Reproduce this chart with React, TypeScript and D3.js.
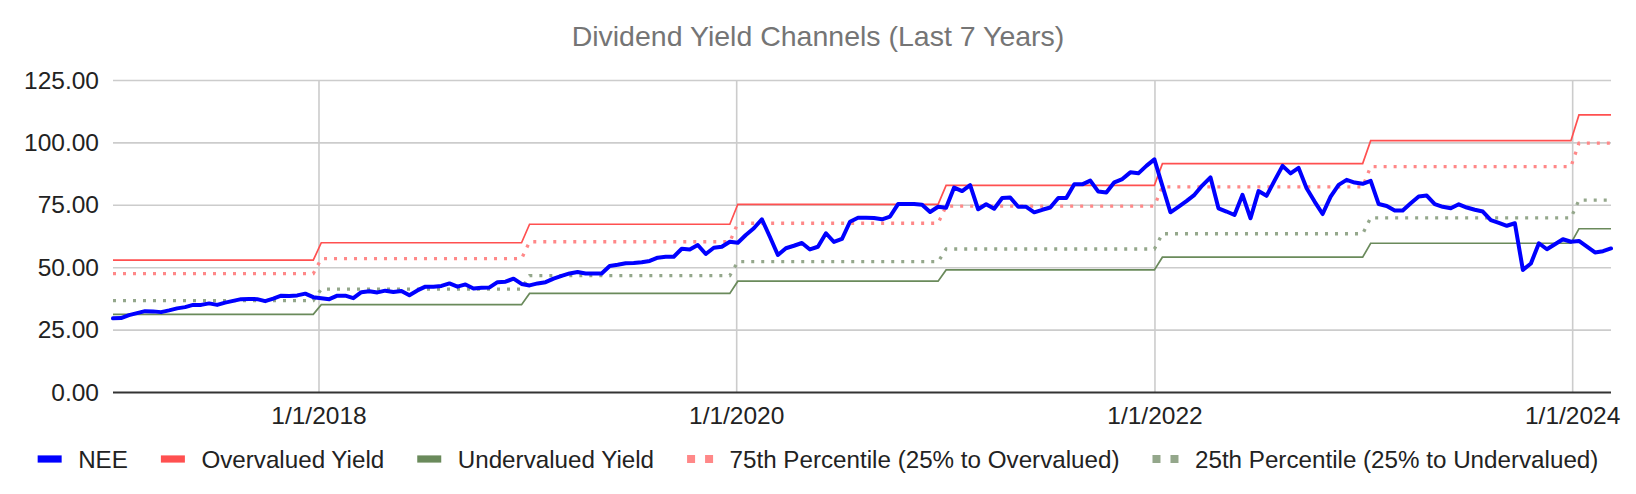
import * as d3 from "d3";
import React, { useEffect, useRef } from "react";

const chartTitle = "Dividend Yield Channels (Last 7 Years)";

// NEE sampled every two weeks (Fridays), starting 2017-01-06
const firstDate = new Date(2017, 0, 6);
const lastDate = new Date(2024, 2, 8);
const stepDays = 14;

const nee = [
  29.7, 29.8, 31.0, 31.8, 32.6, 32.5, 32.2, 32.9, 33.7, 34.2,
  35.1, 35.1, 35.7, 35.1, 36.0, 36.7, 37.4, 37.5, 37.4, 36.6,
  37.6, 38.8, 38.7, 38.9, 39.6, 38.2, 37.8, 37.4, 38.8, 38.8,
  37.8, 40.2, 40.6, 40.1, 40.8, 40.3, 40.7, 39.0, 40.9, 42.4,
  42.4, 42.7, 43.7, 42.4, 43.3, 41.7, 42.0, 42.1, 44.2, 44.4,
  45.6, 43.5, 42.9, 43.7, 44.2, 45.6, 46.7, 47.7, 48.3, 47.7,
  47.7, 47.7, 50.7, 51.2, 51.8, 51.9, 52.2, 52.7, 54.0, 54.4,
  54.4, 57.6, 57.3, 59.1, 55.5, 58.0, 58.4, 60.4, 60.0, 63.1,
  65.8, 69.4, 62.4, 55.1, 57.8, 58.8, 59.9, 57.3, 58.4, 63.8,
  60.3, 61.5, 68.4, 70.0, 70.0, 69.9, 69.4, 70.5, 75.5, 75.5,
  75.5, 75.2, 72.3, 74.4, 74.0, 82.1, 80.7, 83.1, 73.4, 75.4,
  73.6, 77.9, 78.1, 74.4, 74.4, 72.2, 73.2, 74.1, 77.9, 77.9,
  83.4, 83.4, 84.9, 80.5, 80.1, 84.2, 85.5, 88.2, 87.8, 90.8,
  93.4, 82.8, 72.2, 74.4, 76.7, 79.2, 83.0, 86.2, 73.8, 72.5,
  71.1, 79.2, 69.8, 80.7, 78.8, 84.9, 90.8, 87.8, 90.0, 81.8,
  76.5, 71.5, 78.5, 83.2, 85.2, 84.1, 83.6, 84.8, 75.5, 74.7,
  72.9, 72.9, 75.8, 78.5, 78.9, 75.5, 74.4, 73.8, 75.4, 74.1,
  73.2, 72.5, 69.1, 68.0, 66.8, 67.8, 49.1, 51.7, 59.8, 57.4,
  59.4, 61.4, 60.4, 60.7, 58.4, 56.1, 56.6, 57.7,
];

// yearly channel levels, 2017..2024
const bandYears = [2017, 2018, 2019, 2020, 2021, 2022, 2023, 2024];
const overvalued = [53.0, 60.0, 67.4, 75.4, 83.0, 91.7, 100.9, 111.2];
const undervalued = [31.3, 35.2, 39.7, 44.6, 49.1, 54.2, 59.8, 65.6];
const pct75 = [47.6, 53.6, 60.4, 67.8, 74.7, 82.4, 90.5, 99.9];
const pct25 = [36.8, 41.4, 46.8, 52.4, 57.5, 63.6, 70.0, 77.1];

const yTicks = [0, 25, 50, 75, 100, 125];
const xTicks = [new Date(2018, 0, 1), new Date(2020, 0, 1), new Date(2022, 0, 1), new Date(2024, 0, 1)];

const seriesNames = [
  "NEE",
  "Overvalued Yield",
  "Undervalued Yield",
  "75th Percentile (25% to Overvalued)",
  "25th Percentile (25% to Undervalued)",
];

export default function App() {
  const svgRef = useRef<SVGSVGElement | null>(null);

  useEffect(() => {
    document.body.style.margin = "0";
    if (!svgRef.current) return;

    const width = 1636;
    const height = 494;
    const marginTop = 80.5;
    const marginRight = 25;
    const marginBottom = 101.5;
    const marginLeft = 113;
    const font = "Arial, 'Liberation Sans', sans-serif";

    const colors = ["#0000ff", "#ff5050", "#6a8a5b", "#ff8888", "#94a78b"];

    const dates = nee.map((_, i) => d3.timeDay.offset(firstDate, i * stepDays));
    const band = (levels: number[]) => dates.map((d) => levels[d.getFullYear() - bandYears[0]]);

    const x = d3.scaleTime().domain([firstDate, lastDate]).range([marginLeft, width - marginRight]);
    const y = d3.scaleLinear().domain([0, 125]).range([height - marginBottom, marginTop]);

    const line = d3
      .line<number>()
      .x((_, i) => x(dates[i]))
      .y((d) => y(d));

    const svg = d3.select(svgRef.current);
    svg.selectAll("*").remove();
    svg.attr("font-family", font);

    // title
    svg
      .append("text")
      .attr("x", width / 2)
      .attr("y", 46)
      .attr("text-anchor", "middle")
      .attr("font-size", 28.5)
      .attr("fill", "#757575")
      .text(chartTitle);

    // gridlines
    const grid = svg.append("g").attr("stroke", "#cccccc").attr("stroke-width", 1.6);
    grid
      .selectAll("line.h")
      .data(yTicks.filter((t) => t > 0))
      .join("line")
      .attr("x1", marginLeft)
      .attr("x2", width - marginRight)
      .attr("y1", (d) => y(d))
      .attr("y2", (d) => y(d));
    grid
      .selectAll("line.v")
      .data(xTicks)
      .join("line")
      .attr("x1", (d) => x(d))
      .attr("x2", (d) => x(d))
      .attr("y1", y(125))
      .attr("y2", y(0));

    // y labels
    svg
      .append("g")
      .attr("font-size", 24.5)
      .attr("fill", "#222")
      .attr("text-anchor", "end")
      .selectAll("text")
      .data(yTicks)
      .join("text")
      .attr("x", 99)
      .attr("y", (d) => y(d) + 8)
      .text((d) => d3.format(".2f")(d));

    // x labels
    svg
      .append("g")
      .attr("font-size", 24.5)
      .attr("fill", "#222")
      .attr("text-anchor", "middle")
      .selectAll("text")
      .data(xTicks)
      .join("text")
      .attr("x", (d) => x(d))
      .attr("y", 424)
      .text((d) => d3.timeFormat("%-m/%-d/%Y")(d));

    // channel lines
    const bands = [band(overvalued), band(undervalued), band(pct75), band(pct25)];
    svg
      .append("g")
      .attr("fill", "none")
      .selectAll("path")
      .data(bands)
      .join("path")
      .attr("stroke", (_, i) => colors[i + 1])
      .attr("stroke-width", (_, i) => (i < 2 ? 1.7 : 3.3))
      .attr("stroke-dasharray", (_, i) => (i < 2 ? null : "3 7"))
      .attr("d", line);

    // NEE
    svg
      .append("path")
      .attr("fill", "none")
      .attr("stroke", colors[0])
      .attr("stroke-width", 4)
      .attr("stroke-linejoin", "round")
      .attr("stroke-linecap", "round")
      .attr("d", line(nee));

    // baseline
    svg
      .append("line")
      .attr("x1", marginLeft)
      .attr("x2", width - marginRight)
      .attr("y1", y(0))
      .attr("y2", y(0))
      .attr("stroke", "#333")
      .attr("stroke-width", 2);

    // legend
    const legendY = 459;
    const legend = svg.append("g").attr("font-size", 24.2).attr("fill", "#222");
    const items = seriesNames.map((name, i) => {
      const g = legend.append("g");
      const dotted = i >= 3;
      const sw = dotted ? 26 : 24;
      if (dotted) {
        g.append("line")
          .attr("x1", 0)
          .attr("x2", sw)
          .attr("y1", legendY)
          .attr("y2", legendY)
          .attr("stroke", colors[i])
          .attr("stroke-width", 8)
          .attr("stroke-dasharray", "8 10");
      } else {
        g.append("rect")
          .attr("x", 0)
          .attr("y", legendY - 3.6)
          .attr("width", sw)
          .attr("height", 7.2)
          .attr("fill", colors[i]);
      }
      const t = g
        .append("text")
        .attr("x", sw + 16.5)
        .attr("y", legendY + 8.5)
        .text(name);
      const w = sw + 16.5 + (t.node() as SVGTextElement).getComputedTextLength();
      return { g, w };
    });
    const gap = 33;
    const total = d3.sum(items, (d) => d.w) + gap * (items.length - 1);
    let cx = width / 2 - total / 2;
    items.forEach(({ g, w }) => {
      g.attr("transform", `translate(${cx},0)`);
      cx += w + gap;
    });
  }, []);

  return <svg ref={svgRef} width={1636} height={494} style={{ display: "block", background: "#fff" }} />;
}
